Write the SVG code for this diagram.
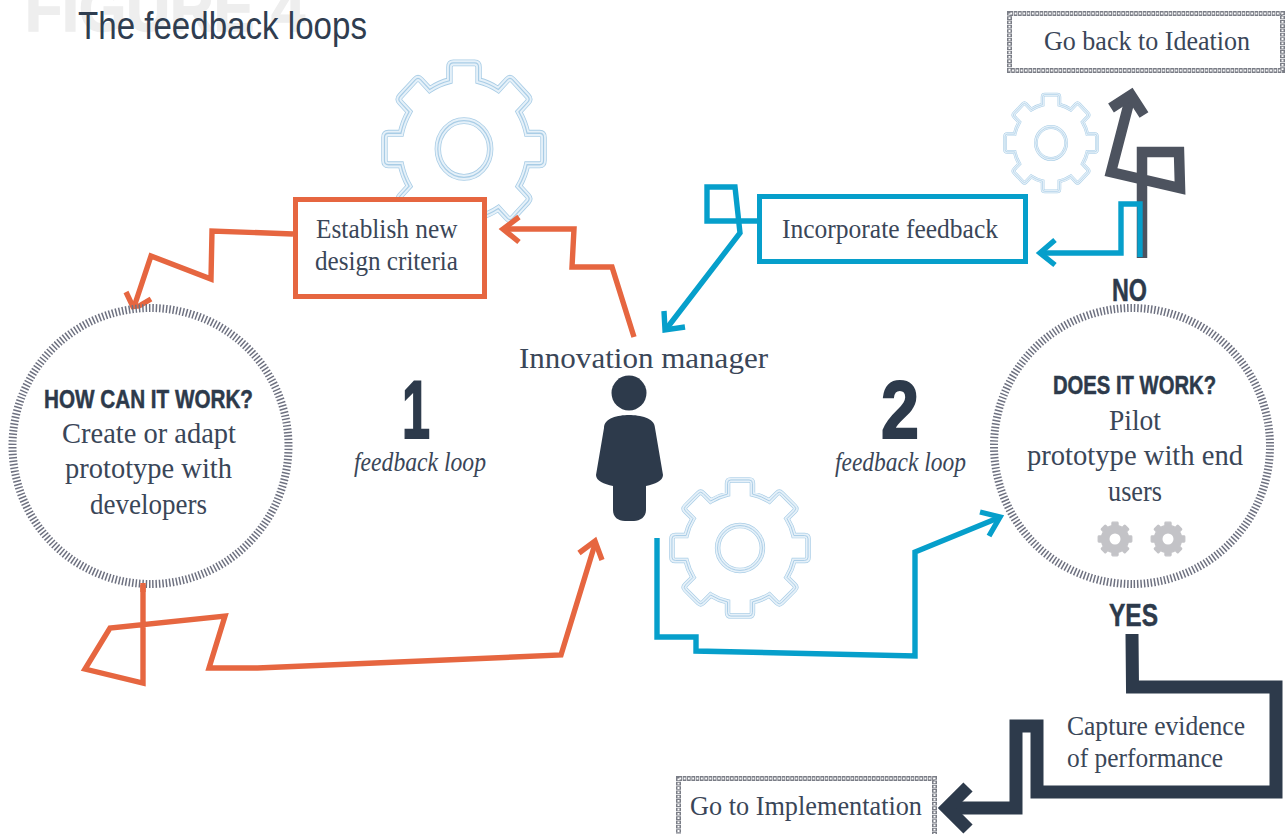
<svg xmlns="http://www.w3.org/2000/svg" xmlns:xlink="http://www.w3.org/1999/xlink" width="1285" height="834" viewBox="0 0 1285 834">
<style>
.serif{font-family:"Liberation Serif","Times New Roman",serif;fill:#3a4658}
.cond{font-family:"Liberation Sans Narrow","Liberation Sans",Arial,sans-serif;font-weight:700;fill:#2d3a4b;stroke:#2d3a4b;stroke-width:.5}
.s26{font-size:26px}.s27{font-size:27px}.s28{font-size:29px}
.or{fill:none;stroke:#e66640;stroke-width:5.4;stroke-linejoin:miter}
.bl{fill:none;stroke:#069fcb;stroke-width:5.4;stroke-linejoin:miter}
.ring{fill:#fff;stroke:#6e7180;stroke-width:8;stroke-dasharray:1.5 1.9}
.chainA{fill:#fff;stroke:#7a7d86;stroke-width:5;stroke-dasharray:3.6 .7}
.chainB{fill:none;stroke:#fff;stroke-width:2;stroke-dasharray:1.8 2.5;stroke-dashoffset:-.9}
</style>
<defs>
<path id="gp" d="M-15,-65 L-15,-78 Q-15,-82 -11,-82 L11,-82 Q15,-82 15,-78 L15,-65 A67,67 0 0 1 35.4,-56.6 L44.6,-65.8 Q47.4,-68.6 50.2,-65.8 L65.8,-50.2 Q68.6,-47.4 65.8,-44.6 L56.6,-35.4 A67,67 0 0 1 65,-15 L78,-15 Q82,-15 82,-11 L82,11 Q82,15 78,15 L65,15 A67,67 0 0 1 56.6,35.4 L65.8,44.6 Q68.6,47.4 65.8,50.2 L50.2,65.8 Q47.4,68.6 44.6,65.8 L35.4,56.6 A67,67 0 0 1 15,65 L15,78 Q15,82 11,82 L-11,82 Q-15,82 -15,78 L-15,65 A67,67 0 0 1 -35.4,56.6 L-44.6,65.8 Q-47.4,68.6 -50.2,65.8 L-65.8,50.2 Q-68.6,47.4 -65.8,44.6 L-56.6,35.4 A67,67 0 0 1 -65,15 L-78,15 Q-82,15 -82,11 L-82,-11 Q-82,-15 -78,-15 L-65,-15 A67,67 0 0 1 -56.6,-35.4 L-65.8,-44.6 Q-68.6,-47.4 -65.8,-50.2 L-50.2,-65.8 Q-47.4,-68.6 -44.6,-65.8 L-35.4,-56.6 A67,67 0 0 1 -15,-65 Z"/>
<g id="gear" fill="none">
<use href="#gp" stroke="#a9cde6" stroke-width="6.6" fill="#fff"/><use href="#gp" stroke="#e6f1f9" stroke-width="5"/><use href="#gp" stroke="#a9cde6" stroke-width="1.2"/>
<circle r="27" stroke="#a9cde6" stroke-width="6.6"/><circle r="27" stroke="#e6f1f9" stroke-width="5"/><circle r="27" stroke="#a9cde6" stroke-width="1.2"/>
</g>
</defs>
<rect width="1285" height="834" fill="#fff"/>
<g id="title">
<text x="25" y="31" font-family="Liberation Sans, Arial, sans-serif" font-weight="700" font-size="64" fill="#eeeeee" stroke="#eeeeee" stroke-width="1.500" textLength="280" lengthAdjust="spacingAndGlyphs">FIGURE 4</text>
<text x="78" y="39" font-family="Liberation Sans Narrow, Liberation Sans, Arial, sans-serif" font-size="38" fill="#2f3d50" textLength="289" lengthAdjust="spacingAndGlyphs">The feedback loops</text>
</g>
<g id="gears">
<use href="#gear" transform="translate(464,149) scale(.97,1.05)"/>
<use href="#gear" transform="translate(1051,143) scale(.56,.59)"/>
<use href="#gear" transform="translate(740,548) scale(.83)"/>
</g>
<g id="connectors">
<path class="or" d="M293,234 L212,231 L211,279 L151,256 L134,307"/>
<path class="or" d="M126,292 L134,309 L151,299"/>
<path class="or" d="M634,337 L612,267 L572,267 L574,229 L505,229"/>
<path class="or" d="M519,217 L503,229 L519,242"/>
<path class="or" d="M143,585 L143,683 L85,669 L110,628 L225,616 L209,668 L257.5,668 L561,655 L595,544"/>
<path class="or" d="M579,553 L595,541 L602,560"/>
<path fill="none" stroke="#4d535f" stroke-width="10.500" d="M1142,258 L1142,152 L1179,152 L1180,188 L1111,172 L1131,95"/>
<path fill="none" stroke="#4d535f" stroke-width="10.500" d="M1111,108 L1131,95 L1144,115"/>
<path class="bl" d="M757,221 L707,221 L707,187 L735,187 L740,233 L667,328"/>
<path class="bl" d="M664,311 L665,330 L685,327"/>
<path class="bl" d="M1140,257 L1140,204 L1121,204 L1121,253 L1042,253"/>
<path class="bl" d="M1055,240 L1040,253 L1055,265"/>
<path class="bl" d="M657,538 L657,637 L696,637 L696,651 L915,656 L915,552 L998,518"/>
<path class="bl" d="M980,512 L1000,517 L989,536"/>
<path fill="none" stroke="#2d3a4b" stroke-width="13" d="M1132,634 L1132.5,687 L1276,687 L1276,792 L1037,792 L1037,726 L1016,726 L1016,808 L950,808"/>
<path fill="none" stroke="#2d3a4b" stroke-width="13" d="M968,787 L947,808 L968,829"/>
</g>
<g id="node-establish">
<rect x="295.5" y="199.5" width="189" height="97" fill="#fff" stroke="#e66640" stroke-width="5"/>
<text class="serif s27" x="316" y="238" textLength="141.5" lengthAdjust="spacingAndGlyphs">Establish new</text>
<text class="serif s27" x="315" y="270" textLength="143" lengthAdjust="spacingAndGlyphs">design criteria</text>
</g>
<g id="node-incorporate">
<rect x="759.5" y="196.5" width="266" height="65" fill="#fff" stroke="#069fcb" stroke-width="5"/>
<text class="serif s27" x="782" y="238" textLength="216" lengthAdjust="spacingAndGlyphs">Incorporate feedback</text>
</g>
<g id="node-ideation">
<rect class="chainA" x="1009.5" y="13.5" width="273" height="57"/>
<rect class="chainB" x="1009.5" y="13.5" width="273" height="57"/>
<text class="serif s27" x="1044" y="50" textLength="206" lengthAdjust="spacingAndGlyphs">Go back to Ideation</text>
</g>
<g id="node-implementation">
<rect class="chainA" x="678.5" y="778.5" width="256" height="70"/>
<rect class="chainB" x="678.5" y="778.5" width="256" height="70"/>
<text class="serif s27" x="690" y="815" textLength="232" lengthAdjust="spacingAndGlyphs">Go to Implementation</text>
</g>
<g id="node-how">
<circle class="ring" cx="150.500" cy="446" r="138" transform="rotate(90 150.5 446)"/>
<text class="cond" x="44" y="408" font-size="26" textLength="209" lengthAdjust="spacingAndGlyphs">HOW CAN IT WORK?</text>
<text class="serif s28" x="62" y="443" textLength="174" lengthAdjust="spacingAndGlyphs">Create or adapt</text>
<text class="serif s28" x="65" y="478" textLength="167" lengthAdjust="spacingAndGlyphs">prototype with</text>
<text class="serif s28" x="90" y="514" textLength="117" lengthAdjust="spacingAndGlyphs">developers</text>
</g>
<path class="or" d="M143,583 L143,592" id="how-stub"/>
<g id="node-does">
<circle class="ring" cx="1132" cy="446" r="138" transform="rotate(90 1132 446)"/>
<text class="cond" x="1053" y="394" font-size="26" textLength="163" lengthAdjust="spacingAndGlyphs">DOES IT WORK?</text>
<text class="serif s28" x="1109" y="430" textLength="52" lengthAdjust="spacingAndGlyphs">Pilot</text>
<text class="serif s28" x="1027" y="465" textLength="216" lengthAdjust="spacingAndGlyphs">prototype with end</text>
<text class="serif s28" x="1108" y="501" textLength="54" lengthAdjust="spacingAndGlyphs">users</text>
<g fill="#c3c3c7">
<use href="#gp" transform="translate(1115,539) scale(.205)" stroke="#c3c3c7" stroke-width="6"/>
<use href="#gp" transform="translate(1168,539) scale(.205)" stroke="#c3c3c7" stroke-width="6"/>
</g>
<circle cx="1115" cy="539" r="5.500" fill="#fff"/><circle cx="1168" cy="539" r="5.500" fill="#fff"/>
</g>
<g id="node-manager">
<text class="serif" x="519" y="368" font-size="30" textLength="249" lengthAdjust="spacingAndGlyphs">Innovation manager</text>
<circle cx="629" cy="393" r="17.500" fill="#2d3a4b"/>
<path fill="#2d3a4b" d="M604,428 C604,418 618,415 629,415 C640,415 655,418 655,428 L663,475 C663,481 655,484 646,486 L646,510 C646,517 640,521 634,521 L625,521 C618,521 613,517 613,510 L613,486 C604,484 596,481 596,475 Z"/>
</g>
<g id="loop-1">
<text class="cond" x="402" y="438" font-size="82" stroke-width="2" style="stroke-width:2px" textLength="28" lengthAdjust="spacingAndGlyphs">1</text>
<text class="serif" x="354" y="471" font-size="27" font-style="italic" textLength="132" lengthAdjust="spacingAndGlyphs">feedback loop</text>
</g>
<g id="loop-2">
<text class="cond" x="881" y="438" font-size="82" style="stroke-width:2px" textLength="38" lengthAdjust="spacingAndGlyphs">2</text>
<text class="serif" x="835" y="471" font-size="27" font-style="italic" textLength="131" lengthAdjust="spacingAndGlyphs">feedback loop</text>
</g>
<g id="labels">
<text class="cond" x="1112" y="301" font-size="31" textLength="35" lengthAdjust="spacingAndGlyphs">NO</text>
<text class="cond" x="1109" y="626" font-size="32" textLength="49" lengthAdjust="spacingAndGlyphs">YES</text>
<text class="serif s27" x="1067" y="735" textLength="178" lengthAdjust="spacingAndGlyphs">Capture evidence</text>
<text class="serif s27" x="1067" y="767" textLength="156" lengthAdjust="spacingAndGlyphs">of performance</text>
</g>
</svg>
